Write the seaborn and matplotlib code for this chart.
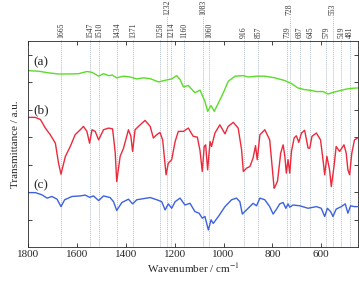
import numpy as np
import pandas as pd
import seaborn as sns
import matplotlib.pyplot as plt
import matplotlib.transforms as mtransforms

## Spectra (wavenumber / cm-1, transmittance in arbitrary offset units)
wn_a = [1797, 1756, 1715, 1675, 1634, 1593, 1559, 1538, 1511, 1491, 1470, 1455, 1437, 1409,
        1382, 1355, 1328, 1300, 1266, 1239, 1212, 1192, 1178, 1164, 1144, 1117, 1096, 1076,
        1065, 1051, 1038, 1021, 1001, 981, 953, 919, 899, 865, 831, 790, 749, 722, 695, 668,
        647, 620, 593, 573, 552, 525, 498, 471, 452]
tr_a = [6.42, 6.40, 6.34, 6.30, 6.30, 6.31, 6.39, 6.36, 6.22, 6.31, 6.24, 6.26, 6.16, 6.22,
        6.19, 6.12, 6.16, 6.13, 6.01, 6.07, 6.12, 6.24, 6.10, 5.83, 5.88, 5.62, 5.71, 5.30,
        4.94, 5.15, 4.94, 5.24, 5.61, 6.03, 6.22, 6.24, 6.19, 6.22, 6.22, 6.16, 6.06, 5.95,
        5.79, 5.73, 5.71, 5.66, 5.66, 5.57, 5.63, 5.69, 5.75, 5.78, 5.79]

wn_b = [1797, 1770, 1749, 1729, 1709, 1688, 1675, 1665, 1654, 1647, 1627, 1607, 1586, 1573,
        1559, 1548, 1538, 1525, 1511, 1491, 1470, 1454, 1450, 1443, 1437, 1423, 1409, 1389,
        1379, 1372, 1362, 1341, 1321, 1300, 1287, 1273, 1260, 1249, 1235, 1226, 1212, 1198,
        1185, 1164, 1144, 1124, 1107, 1096, 1087, 1079, 1073, 1065, 1055, 1049, 1035, 1015,
        994, 981, 960, 940, 926, 919, 906, 892, 879, 869, 862, 851, 831, 811, 801, 793, 790,
        779, 766, 756, 749, 743, 736, 729, 722, 711, 702, 692, 681, 668, 654, 647, 638, 620,
        603, 593, 586, 577, 566, 559, 548, 539, 525, 507, 498, 491, 484, 475, 464, 452]
tr_b = [4.72, 4.72, 4.64, 4.33, 4.09, 3.78, 3.05, 2.65, 3.05, 3.30, 3.66, 4.09, 4.27, 4.39,
        4.21, 3.78, 4.27, 4.21, 3.90, 4.27, 4.33, 4.30, 4.00, 3.42, 2.38, 3.30, 3.60, 4.27,
        4.03, 3.48, 4.27, 4.45, 4.61, 4.39, 3.97, 4.09, 4.17, 3.90, 2.63, 3.05, 3.18, 3.84,
        4.21, 4.21, 4.33, 4.03, 4.00, 3.50, 2.75, 3.66, 3.72, 2.81, 3.84, 3.66, 4.15, 4.45,
        4.12, 4.39, 4.54, 4.33, 3.54, 2.75, 2.87, 2.93, 3.24, 3.69, 3.18, 4.09, 4.27, 3.90,
        2.93, 2.14, 2.18, 2.40, 3.42, 3.72, 3.30, 2.69, 3.18, 2.69, 3.48, 3.97, 4.05, 3.81,
        4.15, 4.25, 3.60, 3.60, 4.03, 4.15, 3.90, 3.18, 2.63, 3.30, 2.81, 2.20, 2.93, 3.66,
        3.48, 3.72, 3.42, 2.81, 2.63, 3.42, 3.90, 3.97]

wn_c = [1797, 1770, 1743, 1722, 1702, 1681, 1665, 1650, 1620, 1586, 1566, 1548, 1532, 1511,
        1491, 1464, 1450, 1437, 1416, 1389, 1372, 1355, 1328, 1300, 1273, 1253, 1239, 1226,
        1212, 1198, 1178, 1158, 1137, 1117, 1100, 1087, 1076, 1062, 1051, 1042, 1021, 994,
        967, 947, 933, 923, 906, 879, 865, 851, 831, 811, 797, 783, 770, 756, 745, 736, 729,
        715, 688, 654, 620, 600, 586, 575, 562, 552, 539, 518, 502, 491, 480, 464, 452]
tr_c = [1.98, 1.98, 1.90, 1.78, 1.84, 1.74, 1.47, 1.72, 1.84, 1.86, 1.89, 1.81, 1.86, 1.69,
        1.86, 1.80, 1.65, 1.33, 1.62, 1.74, 1.57, 1.72, 1.76, 1.80, 1.72, 1.65, 1.35, 1.57,
        1.41, 1.65, 1.78, 1.53, 1.59, 1.29, 1.23, 1.05, 1.11, 0.62, 0.99, 0.86, 1.11, 1.47,
        1.72, 1.78, 1.65, 1.20, 1.35, 1.59, 1.50, 1.78, 1.72, 1.47, 1.20, 1.38, 1.57, 1.62,
        1.41, 1.57, 1.45, 1.53, 1.50, 1.41, 1.47, 1.41, 1.11, 1.41, 1.29, 1.11, 1.38, 1.47,
        1.57, 1.23, 1.50, 1.47, 1.47]

## Marked bands on top of the frame
peaks = [1665, 1547, 1510, 1434, 1371, 1258, 1232, 1214, 1160, 1083, 1060,
         916, 857, 739, 728, 687, 645, 579, 553, 519, 481]
raised = [1232, 1083, 728, 553]

sample_names = ["(a)", "(b)", "(c)"]
colors = ["#5bdc2a", "#ec2a3c", "#3c62e0"]

sns.set_style("ticks")
plt.rcParams["font.family"] = ["Liberation Serif", "DejaVu Serif"]
plt.rcParams["mathtext.fontset"] = "stix"

fig = plt.figure(figsize=(3.59, 2.81), dpi=100)
ax = fig.add_axes([0.078, 0.121, 0.919, 0.733])

#dotted guide lines running from the bottom up to the band labels
trans = mtransforms.blended_transform_factory(ax.transData, ax.transAxes)
for p in peaks:
    top = 1.12 if p in raised else 1.012
    ax.plot([p, p], [0, top], transform=trans, color="#b3c0cc", lw=0.7,
            ls=(0, (1, 1)), clip_on=False, zorder=0)
    ax.text(p, top + 0.005, str(p), transform=trans, rotation=90, ha="center",
            va="bottom", fontsize=5.5, color="#333333")

for wn, tr, c in zip([wn_a, wn_b, wn_c], [tr_a, tr_b, tr_c], colors):
    sns.lineplot(x=wn, y=tr, color=c, linewidth=1.0, ax=ax)

for name, ypos in zip(sample_names, [6.52, 4.77, 2.02]):
    ax.text(1748, ypos, name, fontsize=9.5, ha="center", va="bottom")

ax.set_xlim(1800, 450)
ax.set_ylim(0, 7.5)
ax.set_xticks([1800, 1600, 1400, 1200, 1000, 800, 600])
ax.set_yticks(range(1, 8))
ax.set_yticklabels([])
ax.tick_params(direction="in", top=True, right=True, length=3, width=0.6,
               labelsize=8, pad=2)
for s in ax.spines.values():
    s.set_linewidth(0.6)
ax.set_xlabel("Wavenumber / cm$^{-1}$", fontsize=8, labelpad=2)
ax.set_ylabel("Transmittance / a.u.", fontsize=8, labelpad=4)

plt.savefig("out.png", dpi=100)
